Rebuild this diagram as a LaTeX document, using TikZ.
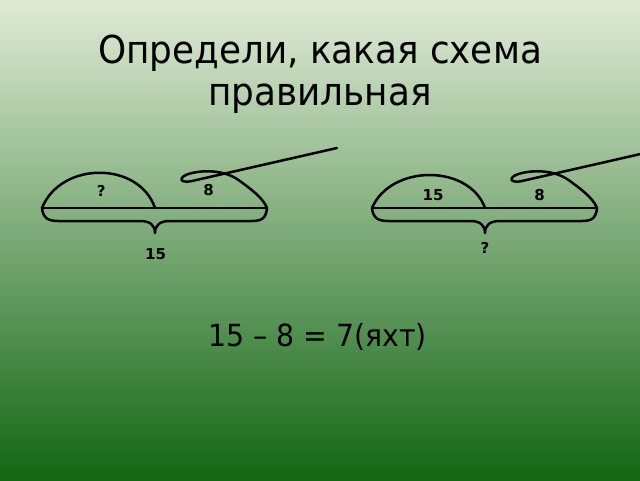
\documentclass[tikz,border=0pt]{standalone}
\usepackage{fontspec}
\setmainfont{DejaVu Sans}
\newfontfamily\slidefont{DejaVu Sans}[FakeStretch=0.93]
\definecolor{bgtop}{RGB}{224,235,214}
\definecolor{bgbottom}{RGB}{19,102,20}

\begin{document}
\begin{tikzpicture}[x=1pt,y=-1pt,
  scheme/.style={black,line width=2.5pt,line cap=round,line join=round},
  lbl/.style={inner sep=0pt,font=\bfseries\fontsize{15}{18}\selectfont}]
\useasboundingbox (0,0) rectangle (640,480);
\shade[top color=bgtop,bottom color=bgbottom] (0,0) rectangle (640,480);
\clip (0,0) rectangle (640,480);
\node (title1) [anchor=base,font=\slidefont\fontsize{38.5}{46}\selectfont] at (320,63.8) {Определи, какая схема};
\node (title2) [anchor=base,font=\slidefont\fontsize{38.5}{46}\selectfont] at (320,105.7) {правильная};
\begin{scope}
\draw[scheme] (42,208) -- (267,208);
\draw[scheme] (42,208) .. controls (61,161) and (139,161) .. (155,208);
\draw[scheme] (337,148) -- (192,181) .. controls (178,184) and (178,176) .. (192,173) .. controls (210,169) and (228,172) .. (240,181) .. controls (252,190) and (263,198) .. (267,208);
\draw[scheme] (42,208) .. controls (43,218) and (48,221) .. (58,221) -- (140,221) .. controls (150,221) and (155,225) .. (155,233) .. controls (155,225) and (160,221) .. (170,221) -- (252,221) .. controls (262,221) and (266,218) .. (267,208);
\node[lbl] (partA) at (101.3,190.5) {?};
\node[lbl] (partB) at (208.7,190.5) {8};
\node[lbl] (whole) at (155.5,253.8) {15};
\end{scope}
\begin{scope}[xshift=330pt]
\draw[scheme] (42,208) -- (267,208);
\draw[scheme] (42,208) .. controls (61,164) and (139,164) .. (155,208);
\draw[scheme] (337,148) -- (192,181) .. controls (178,184) and (178,176) .. (192,173) .. controls (210,169) and (228,172) .. (240,181) .. controls (252,190) and (263,198) .. (267,208);
\draw[scheme] (42,208) .. controls (43,218) and (48,221) .. (58,221) -- (140,221) .. controls (150,221) and (155,225) .. (155,233) .. controls (155,225) and (160,221) .. (170,221) -- (252,221) .. controls (262,221) and (266,218) .. (267,208);
\node[lbl] (partA2) at (103,195.5) {15};
\node[lbl] (partB2) at (209.5,195.5) {8};
\node[lbl] (whole2) at (155,248.3) {?};
\end{scope}
\node (answer) [anchor=base,font=\slidefont\fontsize{30.5}{36}\selectfont] at (317.5,346.5) {15 – 8 = 7(яхт)};
\end{tikzpicture}
\end{document}
